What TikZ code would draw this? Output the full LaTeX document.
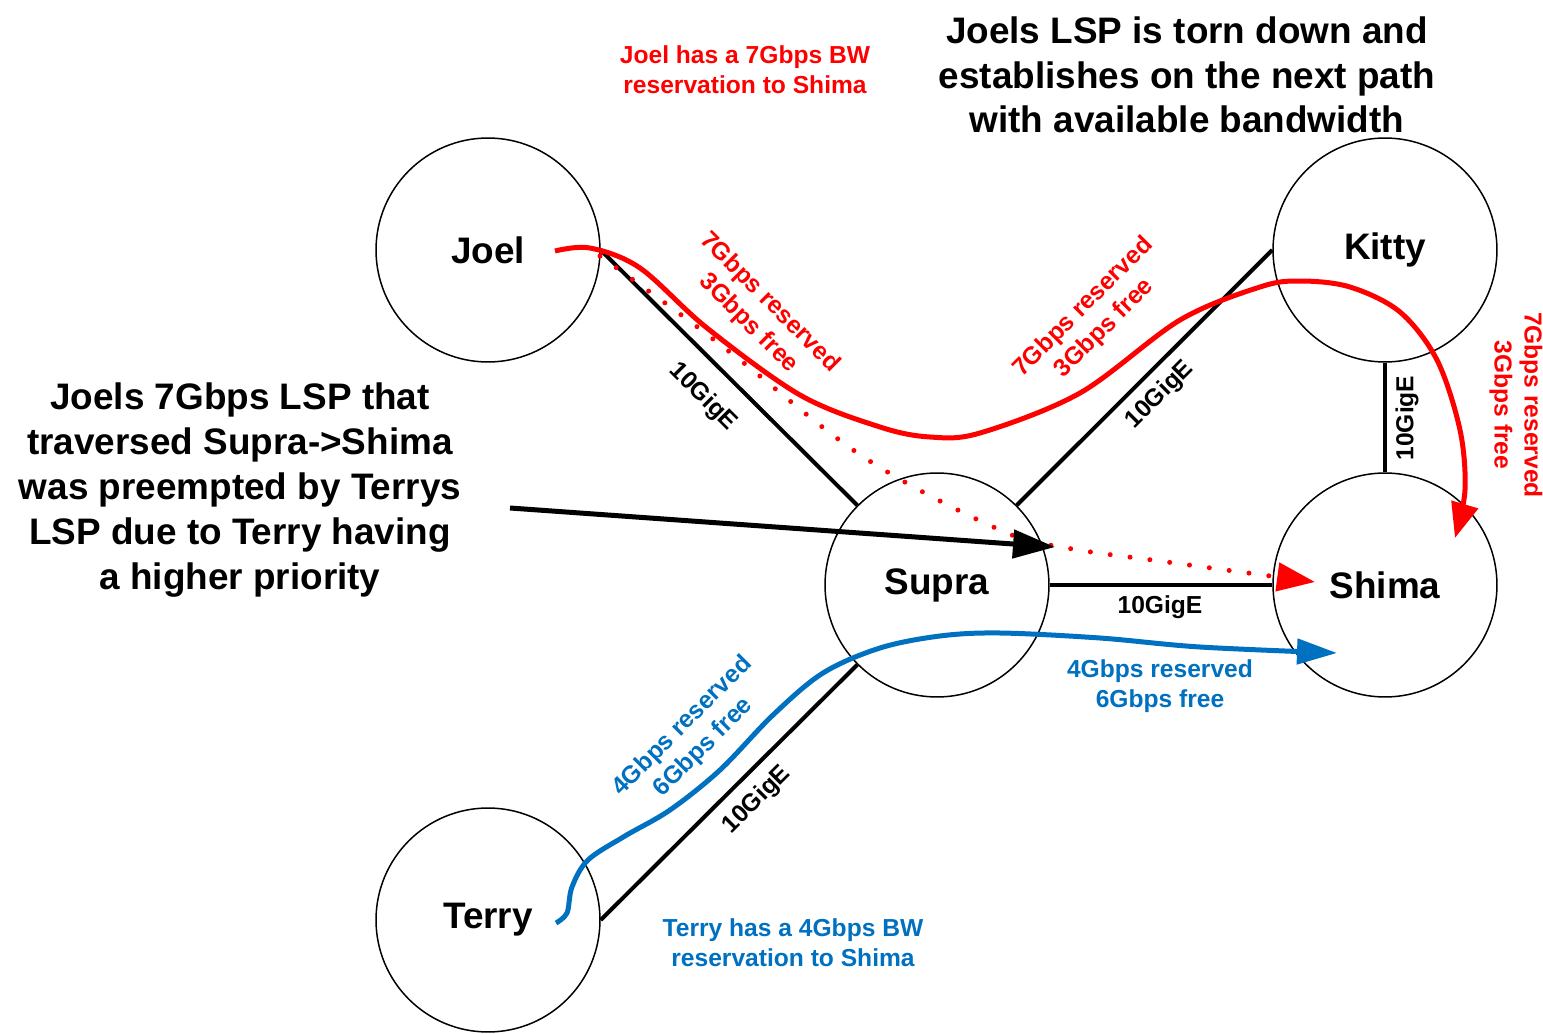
\documentclass[tikz,border=0pt]{standalone}
\usepackage{fontspec}
\setmainfont{Liberation Sans}
\usetikzlibrary{arrows.meta}
\definecolor{lspred}{RGB}{255,0,0}
\definecolor{lspblue}{RGB}{0,112,192}
\begin{document}
\begin{tikzpicture}[x=0.02cm,y=-0.02cm,
  router/.style={circle,draw=black,line width=0.85pt,minimum size=4.48cm,inner sep=0pt,font=\fontsize{21}{25}\selectfont\bfseries},
  link/.style={line width=0.08cm,black},
  linklabel/.style={font=\fontsize{14}{16}\selectfont\bfseries,inner sep=0pt},
  note/.style={font=\fontsize{21}{25.5}\selectfont\bfseries,align=center,inner sep=0pt},
  smallnote/.style={font=\fontsize{14}{17}\selectfont\bfseries,align=center,inner sep=0pt},
  redtext/.style={smallnote,text=lspred},
  bluetext/.style={smallnote,text=lspblue},
  redlsp/.style={line width=0.1cm,lspred},
  bluelsp/.style={line width=0.1cm,lspblue},
]
\useasboundingbox (0,0) rectangle (1543,1034);

% routers
\node[router] (Joel)  at (488,250)  {Joel};
\node[router] (Kitty) at (1385,250) {Kitty};
\node[router] (Supra) at (937,585)  {Supra};
\node[router] (Shima) at (1385,585) {Shima};
\node[router] (Terry) at (488,920)  {Terry};

% links
\draw[link] (Joel.0) -- (Supra.135);
\draw[link] (Supra.45) -- (Kitty.180);
\draw[link] (Kitty.270) -- (Shima.90);
\draw[link] (Supra.0) -- (Shima.180);
\draw[link] (Supra.225) -- (Terry.0);

% link labels
\node[linklabel,rotate=-45] (l1) at (703,397) {10GigE};
\node[linklabel,rotate=45]  (l2) at (1160,395) {10GigE};
\node[linklabel,rotate=90]  (l3) at (1407,418) {10GigE};
\node[linklabel]            (l4) at (1160,607) {10GigE};
\node[linklabel,rotate=45]  (l5) at (757,800) {10GigE};

% red dotted (preempted) LSP
\coordinate (dotstart) at (600,256);
\coordinate (dotend) at (1315,582);
\draw[lspred,line width=0.1cm,line cap=round,dash pattern=on 0pt off 0.4cm,
      -{Triangle[length=0.76cm,width=0.56cm]}]
  plot[smooth,tension=0.6] coordinates {(dotstart) (680,314) (740,360) (865,458) (1000,530) (1067,548) (1167,562) (dotend)};

% red solid LSP via Kitty
\coordinate (redstart) at (555,251);
\coordinate (redend) at (1455,538);
\draw[redlsp,-{Triangle[length=0.7cm,width=0.54cm]}]
  plot[smooth,tension=0.55] coordinates {(redstart) (590,248) (640,268) (707,328) (800,395) (880,427) (930,437) (980,433) (1080,393) (1180,320) (1260,287) (1300,281) (1350,287) (1400,312) (1437,360) (1460,430) (1465,490) (redend)};

% blue LSP
\coordinate (bluestart) at (556,923);
\coordinate (blueend) at (1337,653);
\draw[bluelsp,-{Triangle[length=0.8cm,width=0.5cm]}]
  plot[smooth,tension=0.55] coordinates {(bluestart) (567,913) (572,887) (588,860) (625,836) (670,810) (720,770) (773,715) (823,673) (880,648) (940,636) (1000,633) (1100,638) (1200,647) (blueend)};

% black annotation arrow
\coordinate (prestart) at (510,508);
\coordinate (preend) at (1055,547);
\draw[line width=0.1cm,-{Triangle[length=0.84cm,width=0.56cm]}] (prestart) -- (preend);

% LSP labels
\node[redtext,rotate=-45] (r1) at (759,313) {7Gbps reserved\\3Gbps free};
\node[redtext,rotate=45]  (r2) at (1094,318) {7Gbps reserved\\3Gbps free};
\node[redtext,rotate=-90] (r3) at (1516,405) {7Gbps reserved\\3Gbps free};
\node[bluetext,rotate=45] (b1) at (693,737) {4Gbps reserved\\6Gbps free};
\node[bluetext]           (b2) at (1160,686) {4Gbps reserved\\6Gbps free};

% notes
\node[redtext]  (joelnote)  at (745,70)  {Joel has a 7Gbps BW\\reservation to Shima};
\node[bluetext] (terrynote) at (793,943) {Terry has a 4Gbps BW\\reservation to Shima};
\node[note] (lefttext) at (240,490) {Joels 7Gbps LSP that\\traversed Supra->Shima\\was preempted by Terrys\\LSP due to Terry having\\a higher priority};
\node[note] (toptext) at (1187,75) {Joels LSP is torn down and\\establishes on the next path\\with available bandwidth};
\end{tikzpicture}
\end{document}
